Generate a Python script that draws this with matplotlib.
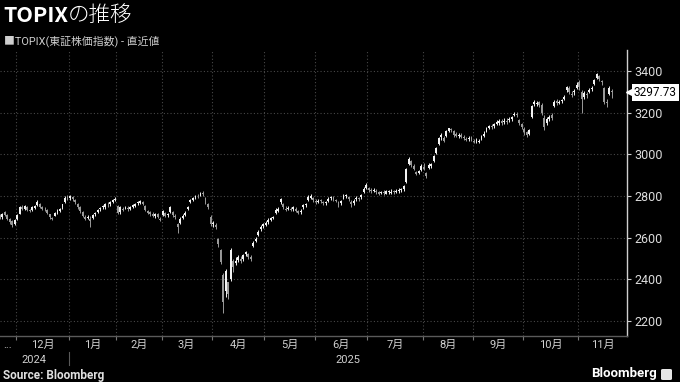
import matplotlib
matplotlib.use("Agg")
import matplotlib.pyplot as plt
import numpy as np
from matplotlib import font_manager as fm
from matplotlib.patches import FancyBboxPatch
from matplotlib.transforms import blended_transform_factory

# --- data: TOPIX daily OHLC, 2024-11-21 .. 2025-11-21 (trading days) ---
month_labels = ["...", "12月", "1月", "2月", "3月", "4月", "5月", "6月",
                "7月", "8月", "9月", "10月", "11月"]
month_days = [7, 21, 19, 18, 20, 21, 20, 21, 22, 20, 20, 22, 14]
year_labels = ["2024", "2025"]
year_start_month = [0, 2]
y_ticks = [2200, 2400, 2600, 2800, 3000, 3200, 3400]

opens = [
    2700, 2697, 2725, 2707, 2690, 2678, 2668,
    2690, 2715, 2745, 2740, 2748, 2735, 2732, 2744, 2755, 2762, 2745, 2740, 2735, 2712, 2695, 2705, 2722, 2728, 2745, 2770, 2795,
    2790, 2795, 2780, 2760, 2745, 2725, 2700, 2695, 2690, 2695, 2712, 2725, 2738, 2745, 2748, 2758, 2762, 2772, 2780,
    2750, 2722, 2740, 2745, 2742, 2740, 2748, 2752, 2765, 2768, 2770, 2750, 2728, 2722, 2715, 2705, 2712, 2690,
    2710, 2720, 2708, 2725, 2725, 2705, 2665, 2672, 2695, 2710, 2738, 2770, 2782, 2795, 2800, 2805, 2815, 2792, 2760, 2700,
    2665, 2660, 2595, 2540, 2420, 2345, 2385, 2400, 2490, 2480, 2495, 2500, 2500, 2520, 2520, 2505, 2560, 2585, 2615, 2640, 2655,
    2660, 2675, 2685, 2695, 2720, 2728, 2770, 2760, 2740, 2738, 2740, 2738, 2740, 2728, 2725, 2745, 2755, 2780, 2790, 2790,
    2775, 2772, 2780, 2770, 2765, 2775, 2790, 2792, 2780, 2770, 2765, 2790, 2798, 2795, 2770, 2765, 2785, 2790, 2795, 2820, 2840,
    2840, 2830, 2825, 2825, 2818, 2815, 2820, 2812, 2818, 2815, 2822, 2820, 2822, 2828, 2832, 2865, 2955, 2970, 2945, 2915, 2912, 2925,
    2940, 2910, 2935, 2945, 2970, 3008, 3050, 3085, 3080, 3090, 3112, 3120, 3110, 3100, 3090, 3095, 3085, 3075, 3072, 3080,
    3065, 3062, 3060, 3075, 3090, 3110, 3128, 3135, 3135, 3148, 3150, 3160, 3155, 3160, 3165, 3172, 3188, 3195, 3165, 3145,
    3120, 3105, 3100, 3180, 3240, 3240, 3250, 3235, 3175, 3150, 3170, 3190, 3230, 3255, 3245, 3255, 3265, 3310, 3320, 3290, 3300, 3320,
    3345, 3300, 3275, 3290, 3300, 3315, 3340, 3365, 3375, 3350, 3320, 3250, 3290, 3305,
]
highs = [
    2712, 2718, 2728, 2712, 2695, 2684, 2690,
    2714, 2750, 2756, 2758, 2752, 2740, 2752, 2758, 2781, 2766, 2750, 2746, 2740, 2716, 2700, 2724, 2736, 2742, 2764, 2798, 2805,
    2806, 2800, 2785, 2766, 2750, 2728, 2708, 2710, 2705, 2716, 2724, 2740, 2748, 2756, 2765, 2772, 2776, 2788, 2794,
    2758, 2750, 2748, 2754, 2750, 2750, 2760, 2768, 2776, 2781, 2778, 2756, 2735, 2730, 2722, 2718, 2720, 2700,
    2733, 2725, 2718, 2750, 2728, 2712, 2670, 2700, 2712, 2726, 2750, 2786, 2795, 2806, 2810, 2818, 2822, 2796, 2766, 2708,
    2678, 2672, 2600, 2545, 2430, 2450, 2389, 2550, 2500, 2505, 2515, 2512, 2520, 2536, 2528, 2515, 2586, 2605, 2637, 2660, 2672,
    2680, 2693, 2700, 2705, 2742, 2745, 2790, 2768, 2750, 2750, 2748, 2750, 2748, 2735, 2736, 2762, 2768, 2805, 2808, 2795,
    2785, 2785, 2788, 2778, 2776, 2795, 2800, 2798, 2788, 2775, 2782, 2808, 2810, 2800, 2780, 2785, 2798, 2797, 2810, 2842, 2861,
    2845, 2840, 2837, 2832, 2825, 2826, 2828, 2829, 2830, 2834, 2830, 2834, 2837, 2840, 2853, 2935, 2985, 2975, 2955, 2920, 2926, 2955,
    2957, 2917, 2957, 2960, 2997, 3037, 3085, 3101, 3090, 3117, 3128, 3128, 3117, 3108, 3101, 3101, 3093, 3085, 3088, 3088,
    3072, 3078, 3075, 3093, 3110, 3133, 3142, 3145, 3150, 3165, 3170, 3168, 3173, 3175, 3181, 3185, 3205, 3205, 3170, 3150,
    3133, 3112, 3122, 3237, 3261, 3255, 3258, 3245, 3189, 3180, 3189, 3200, 3261, 3265, 3262, 3268, 3285, 3330, 3328, 3305, 3315, 3345,
    3355, 3309, 3305, 3300, 3318, 3328, 3362, 3392, 3380, 3358, 3325, 3265, 3328, 3315,
]
lows = [
    2688, 2692, 2705, 2684, 2665, 2651, 2660,
    2686, 2712, 2732, 2734, 2726, 2722, 2728, 2740, 2752, 2744, 2732, 2728, 2716, 2690, 2683, 2702, 2716, 2724, 2740, 2768, 2780,
    2780, 2775, 2762, 2740, 2720, 2700, 2684, 2688, 2653, 2690, 2705, 2720, 2730, 2738, 2740, 2748, 2754, 2768, 2774,
    2714, 2716, 2728, 2736, 2730, 2735, 2742, 2745, 2758, 2762, 2755, 2730, 2712, 2704, 2698, 2696, 2694, 2678,
    2705, 2700, 2700, 2718, 2700, 2690, 2621, 2668, 2688, 2702, 2735, 2765, 2776, 2788, 2790, 2800, 2800, 2760, 2740, 2655,
    2650, 2642, 2555, 2475, 2237, 2317, 2305, 2390, 2435, 2470, 2485, 2478, 2490, 2510, 2498, 2490, 2555, 2580, 2610, 2630, 2645,
    2655, 2668, 2680, 2688, 2715, 2722, 2762, 2738, 2728, 2732, 2728, 2730, 2725, 2712, 2716, 2740, 2748, 2775, 2785, 2770,
    2762, 2765, 2768, 2758, 2758, 2770, 2782, 2778, 2770, 2748, 2758, 2785, 2790, 2778, 2748, 2758, 2775, 2778, 2788, 2815, 2835,
    2820, 2815, 2818, 2812, 2805, 2808, 2805, 2808, 2812, 2808, 2812, 2814, 2815, 2820, 2822, 2861, 2948, 2940, 2925, 2900, 2905, 2920,
    2925, 2885, 2930, 2935, 2965, 3002, 3045, 3070, 3060, 3085, 3108, 3105, 3085, 3082, 3080, 3077, 3070, 3062, 3065, 3062,
    3053, 3055, 3055, 3070, 3085, 3105, 3120, 3122, 3128, 3140, 3140, 3140, 3145, 3145, 3155, 3160, 3182, 3180, 3140, 3120,
    3095, 3085, 3092, 3173, 3230, 3230, 3225, 3189, 3117, 3140, 3160, 3165, 3225, 3235, 3240, 3245, 3260, 3300, 3290, 3275, 3285, 3315,
    3310, 3200, 3268, 3270, 3295, 3305, 3335, 3360, 3350, 3335, 3240, 3229, 3285, 3270,
]
closes = [
    2697, 2713, 2710, 2690, 2676, 2662, 2686,
    2710, 2745, 2738, 2752, 2733, 2728, 2748, 2752, 2770, 2748, 2738, 2736, 2720, 2700, 2690, 2718, 2730, 2738, 2760, 2790, 2785,
    2800, 2785, 2770, 2745, 2730, 2705, 2690, 2700, 2682, 2710, 2718, 2735, 2742, 2750, 2760, 2755, 2770, 2782, 2788,
    2720, 2745, 2735, 2748, 2738, 2745, 2755, 2760, 2770, 2775, 2760, 2735, 2718, 2712, 2705, 2712, 2700, 2685,
    2728, 2705, 2712, 2745, 2708, 2698, 2650, 2690, 2705, 2720, 2745, 2780, 2790, 2800, 2798, 2812, 2808, 2780, 2745, 2665,
    2670, 2650, 2570, 2485, 2290, 2440, 2330, 2540, 2460, 2490, 2508, 2490, 2515, 2530, 2505, 2500, 2575, 2595, 2625, 2650, 2665,
    2670, 2685, 2693, 2700, 2735, 2738, 2785, 2745, 2735, 2742, 2735, 2745, 2730, 2720, 2730, 2755, 2760, 2795, 2800, 2780,
    2770, 2778, 2775, 2765, 2770, 2788, 2795, 2785, 2778, 2758, 2775, 2800, 2805, 2785, 2760, 2778, 2792, 2785, 2805, 2835, 2855,
    2830, 2822, 2830, 2818, 2812, 2820, 2815, 2822, 2825, 2820, 2818, 2826, 2830, 2835, 2848, 2930, 2980, 2950, 2930, 2905, 2920, 2945,
    2930, 2895, 2950, 2955, 2990, 3030, 3080, 3095, 3065, 3110, 3125, 3115, 3095, 3090, 3095, 3085, 3078, 3070, 3080, 3075,
    3060, 3070, 3065, 3085, 3100, 3125, 3135, 3130, 3145, 3155, 3160, 3150, 3162, 3155, 3170, 3178, 3195, 3190, 3150, 3130,
    3105, 3092, 3115, 3230, 3250, 3245, 3238, 3200, 3130, 3170, 3180, 3175, 3250, 3245, 3250, 3260, 3275, 3325, 3300, 3285, 3305, 3335,
    3325, 3265, 3295, 3285, 3310, 3320, 3355, 3385, 3360, 3345, 3250, 3245, 3320, 3297.73,
]

# --- fonts ---
installed = {f.name for f in fm.fontManager.ttflist}
num_font = "Liberation Sans Narrow" if "Liberation Sans Narrow" in installed else "Roboto"
jp_font = "Noto Sans CJK JP"

W, H = 680, 382
fig = plt.figure(figsize=(W / 100, H / 100), dpi=100, facecolor="black")

# plot area: x 0..627 px, y 50..336 px
ax = fig.add_axes([0, (H - 336) / H, 627 / W, 286 / H], facecolor="black")

o = np.array(opens, dtype=float)
hi = np.array(highs, dtype=float)
lo = np.array(lows, dtype=float)
c = np.array(closes, dtype=float)
x = np.arange(len(c))
up = c >= o

colors = np.where(up, "#f2f2f2", "#9a9a9a")
ax.vlines(x, lo, hi, colors=colors, linewidth=0.7, zorder=3)
ax.bar(x, np.abs(c - o), bottom=np.minimum(o, c), width=0.75,
       color=colors, linewidth=0, zorder=4)

ax.set_xlim(0.1, 250.0)
ax.set_ylim(2128, 3501)

# month boundaries and label centres
cum = np.cumsum(month_days)
bounds = cum[:-1] - 0.5
edges = np.concatenate([[ax.get_xlim()[0]], bounds, [ax.get_xlim()[1]]])
centers = (edges[:-1] + edges[1:]) / 2

ax.set_xticks(bounds)
ax.set_xticklabels([])
ax.set_xticks(centers, minor=True)
ax.set_xticklabels(month_labels, minor=True, color="#d0d0d0",
                   fontsize=8, family=[num_font, jp_font])
ax.tick_params(axis="x", which="major", length=3, color="#777777", direction="out")
ax.tick_params(axis="x", which="minor", length=0, pad=3)

ax.yaxis.tick_right()
ax.set_yticks(y_ticks)
ax.set_yticklabels([str(v) for v in y_ticks], fontsize=9, family=num_font,
                   color="#dcdcdc")
ax.tick_params(axis="y", length=3, color="#cccccc", pad=2)

ax.grid(True, which="major", color="#474747", linestyle=(0, (1, 2)), linewidth=0.8)
ax.set_axisbelow(True)

for side in ["left", "top"]:
    ax.spines[side].set_visible(False)
ax.spines["right"].set_color("#cfcfcf")
ax.spines["right"].set_linewidth(1.0)
ax.spines["bottom"].set_color("#5a5a5a")
ax.spines["bottom"].set_linewidth(1.0)

# year labels and divider
bt = blended_transform_factory(ax.transData, ax.transAxes)
year_edges = [edges[i] for i in year_start_month] + [edges[-1]]
for k, lab in enumerate(year_labels):
    xc = (year_edges[k] + year_edges[k + 1]) / 2
    ax.text(xc, -24 / 286, lab, transform=bt, ha="center", va="center",
            fontsize=8, family=num_font, color="#d0d0d0")
ax.plot([year_edges[1], year_edges[1]], [-16 / 286, -29 / 286], transform=bt,
        color="#5a5a5a", linewidth=0.8, clip_on=False)

# last value tag
lt = blended_transform_factory(ax.transAxes, ax.transData)
ax.plot([1.006], [c[-1]], marker="<", markersize=7, color="white",
        transform=lt, clip_on=False, zorder=6)
ax.text(1.011, c[-1], f"{c[-1]:.2f}", transform=lt, ha="left", va="center",
        fontsize=8.5, family=num_font, color="black", zorder=7,
        bbox=dict(boxstyle="square,pad=0.15", fc="white", ec="none"))

# titles
renderer = fig.canvas.get_renderer()
t1 = fig.text(3 / W, 1 - 15 / H, "TOPIX", fontsize=15.5, weight="bold",
              family=jp_font, color="white", va="center")
bb = t1.get_window_extent(renderer)
fig.text(bb.x1 / W, 1 - 15 / H, "の推移", fontsize=15.5, weight="light",
         family=jp_font, color="white", va="center")
fig.text(4 / W, 1 - 41 / H, "■TOPIX(東証株価指数) - 直近値", fontsize=7.8,
         family=[num_font, jp_font], color="#cfcfcf", va="center")

fig.text(3 / W, 1 - 375 / H, "Source: Bloomberg", fontsize=8.5, weight="bold",
         family=num_font, color="#e0e0e0", va="center")
fig.text(657 / W, 1 - 374 / H, "Bloomberg", fontsize=9.5, weight="bold",
         family=num_font, color="white", va="center", ha="right")
icon = FancyBboxPatch((661 / W, 1 - 380 / H), 11 / W, 11 / H,
                      boxstyle="round,pad=0,rounding_size=0.003",
                      transform=fig.transFigure, fc="#e6e6e6", ec="none")
fig.patches.append(icon)

fig.savefig("out.png", dpi=100, facecolor="black")
